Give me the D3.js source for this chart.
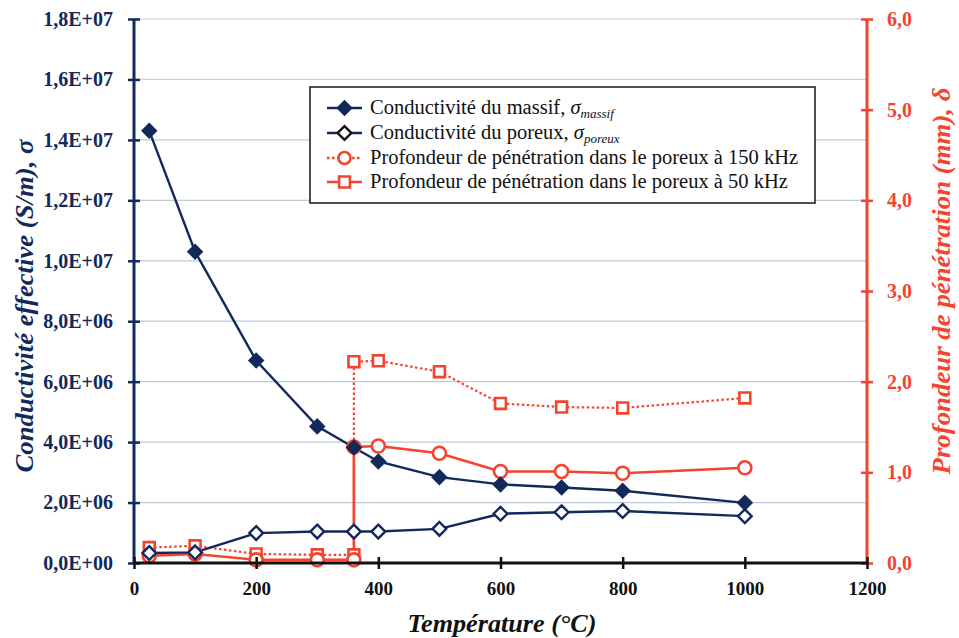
<!DOCTYPE html>
<html>
<head>
<meta charset="utf-8">
<script src="https://cdn.jsdelivr.net/npm/d3@7"></script>
<style>
  html, body { margin: 0; padding: 0; background: #fff; }
  svg { display: block; }
  svg text { font-family: "Liberation Serif", "Tinos", "Times New Roman", serif; }
</style>
</head>
<body>
<svg id="chart" width="959" height="638"></svg>
<script>
// Temperatures (°C) for the conductivity series
const temperatures = [25, 100, 200, 300, 360, 400, 500, 600, 700, 800, 1000];
// Effective conductivity (S/m)
const sigmaMassif = [1.43e7, 1.03e7, 6.7e6, 4.52e6, 3.82e6, 3.36e6, 2.84e6, 2.6e6, 2.5e6, 2.39e6, 1.99e6];
const sigmaPoreux = [3.3e5, 3.5e5, 9.9e5, 1.04e6, 1.04e6, 1.04e6, 1.13e6, 1.63e6, 1.68e6, 1.72e6, 1.55e6];
// Penetration depth (mm); the step at 360 °C is a vertical jump
const depthTemps = [25, 100, 200, 300, 360, 360, 400, 500, 600, 700, 800, 1000];
const depthDotted = [0.17, 0.19, 0.10, 0.09, 0.09, 2.22, 2.23, 2.11, 1.76, 1.72, 1.71, 1.82];
const depthSolid = [0.08, 0.10, 0.035, 0.035, 0.035, 1.28, 1.29, 1.21, 1.01, 1.01, 0.99, 1.05];
// Axis tick values
const xTicks = [0, 200, 400, 600, 800, 1000, 1200];
const yLeftTicks = [0, 2e6, 4e6, 6e6, 8e6, 1e7, 1.2e7, 1.4e7, 1.6e7, 1.8e7];
const yRightTicks = [0, 1, 2, 3, 4, 5, 6];
const legendLabels = [
  "Conductivité du massif, ",
  "Conductivité du poreux, ",
  "Profondeur de pénétration dans le poreux à 150 kHz",
  "Profondeur de pénétration dans le poreux à 50 kHz"
];

const NAVY = "#13295b";
const RED = "#f4432f";
const FONT = '"Liberation Serif", "Tinos", "Times New Roman", serif';

const svg = d3.select("#chart");
const L = 134, R = 867, T = 19, B = 563;

const x = d3.scaleLinear().domain([0, 1200]).range([L, R]);
const yL = d3.scaleLinear().domain([0, 1.8e7]).range([B, T]);
const yR = d3.scaleLinear().domain([0, 6]).range([B, T]);

// Horizontal gridlines on the conductivity ticks
svg.append("g").selectAll("line").data(yLeftTicks.filter(d => d > 0)).join("line")
  .attr("x1", L).attr("x2", R)
  .attr("y1", d => yL(d)).attr("y2", d => yL(d))
  .attr("stroke", d => d === 1.6e7 ? "#f2c2bb" : (d === 1.8e7 ? "#d6dbe2" : "#bccbd9"))
  .attr("stroke-width", 1.3);

const fmtSci = d => {
  if (d === 0) return "0,0E+00";
  const e = Math.floor(Math.log10(d));
  const m = d / Math.pow(10, e);
  return m.toFixed(1).replace(".", ",") + "E+" + String(e).padStart(2, "0");
};

// Left axis
const axL = svg.append("g").attr("transform", `translate(${L},0)`)
  .call(d3.axisLeft(yL).tickValues(yLeftTicks).tickFormat(fmtSci).tickSize(6).tickPadding(15))
  .attr("font-family", null);
axL.select(".domain").remove();
axL.append("line").attr("y1", T).attr("y2", B).attr("stroke", NAVY).attr("stroke-width", 3);
axL.selectAll(".tick line").attr("x1", -6).attr("x2", 6).attr("stroke", NAVY).attr("stroke-width", 2.5);
axL.selectAll(".tick text").attr("fill", NAVY).attr("font-size", 20).attr("font-weight", "bold")
  .style("font-family", FONT);

// Right axis
const axR = svg.append("g").attr("transform", `translate(${R},0)`)
  .call(d3.axisRight(yR).tickValues(yRightTicks).tickFormat(d => d.toFixed(1).replace(".", ",")).tickSize(6).tickPadding(14))
  .attr("font-family", null);
axR.select(".domain").remove();
axR.append("line").attr("y1", T).attr("y2", B).attr("stroke", RED).attr("stroke-width", 3);
axR.selectAll(".tick line").attr("x1", -6).attr("x2", 6).attr("stroke", RED).attr("stroke-width", 2.5);
axR.selectAll(".tick text").attr("fill", RED).attr("font-size", 20).attr("font-weight", "bold")
  .style("font-family", FONT);

// Data lines and markers
const lineL = d3.line().x(d => x(d[0])).y(d => yL(d[1]));
const lineR = d3.line().x(d => x(d[0])).y(d => yR(d[1]));

const ptsMassif = temperatures.map((t, i) => [t, sigmaMassif[i]]);
const ptsPoreux = temperatures.map((t, i) => [t, sigmaPoreux[i]]);
const ptsDotted = depthTemps.map((t, i) => [t, depthDotted[i]]);
const ptsSolid = depthTemps.map((t, i) => [t, depthSolid[i]]);

const plot = svg.append("g");

plot.append("path").datum(ptsDotted).attr("d", lineR)
  .attr("fill", "none").attr("stroke", RED).attr("stroke-width", 2.2).attr("stroke-dasharray", "2.5,2.5");
plot.append("path").datum(ptsSolid).attr("d", lineR)
  .attr("fill", "none").attr("stroke", RED).attr("stroke-width", 2.6);
plot.append("path").datum(ptsPoreux).attr("d", lineL)
  .attr("fill", "none").attr("stroke", NAVY).attr("stroke-width", 2.4);
plot.append("path").datum(ptsMassif).attr("d", lineL)
  .attr("fill", "none").attr("stroke", NAVY).attr("stroke-width", 2.4);

const diamond = d3.symbol().type(d3.symbolDiamond2).size(120);
const square = d3.symbol().type(d3.symbolSquare2).size(150);

plot.append("g").selectAll("path").data(ptsDotted).join("path")
  .attr("d", square).attr("transform", d => `translate(${x(d[0])},${yR(d[1])})`)
  .attr("fill", "#fff").attr("stroke", RED).attr("stroke-width", 2.6);
plot.append("g").selectAll("circle").data(ptsSolid).join("circle")
  .attr("cx", d => x(d[0])).attr("cy", d => yR(d[1])).attr("r", 6.5)
  .attr("fill", "#fff").attr("stroke", RED).attr("stroke-width", 2.6);
plot.append("g").selectAll("path").data(ptsPoreux).join("path")
  .attr("d", diamond).attr("transform", d => `translate(${x(d[0])},${yL(d[1])})`)
  .attr("fill", "#fff").attr("stroke", NAVY).attr("stroke-width", 2.4);
plot.append("g").selectAll("path").data(ptsMassif).join("path")
  .attr("d", diamond).attr("transform", d => `translate(${x(d[0])},${yL(d[1])})`)
  .attr("fill", NAVY).attr("stroke", NAVY).attr("stroke-width", 2);

// Bottom axis drawn last so it sits over markers at the baseline
const axB = svg.append("g").attr("transform", `translate(0,${B})`)
  .call(d3.axisBottom(x).tickValues(xTicks).tickFormat(d3.format("d")).tickSize(6).tickPadding(12.5))
  .attr("font-family", null);
axB.select(".domain").remove();
axB.append("line").attr("x1", L).attr("x2", R).attr("stroke", "#111").attr("stroke-width", 3);
axB.selectAll(".tick line").attr("y1", -6).attr("y2", 6).attr("stroke", "#111").attr("stroke-width", 2.5);
axB.selectAll(".tick text").attr("fill", "#111").attr("font-size", 19).attr("font-weight", "bold")
  .style("font-family", FONT);

// Axis titles
svg.append("text").attr("transform", "translate(502,632)").attr("text-anchor", "middle")
  .attr("font-size", 26).attr("font-weight", "bold").attr("font-style", "italic").attr("fill", "#111")
  .attr("textLength", 189).attr("lengthAdjust", "spacingAndGlyphs")
  .text("Température (°C)");
svg.append("text").attr("transform", "translate(33,306) rotate(-90)").attr("text-anchor", "middle")
  .attr("font-size", 26).attr("font-weight", "bold").attr("font-style", "italic").attr("fill", NAVY)
  .attr("textLength", 333).attr("lengthAdjust", "spacingAndGlyphs")
  .text("Conductivité effective (S/m), σ");
svg.append("text").attr("transform", "translate(950,281) rotate(-90)").attr("text-anchor", "middle")
  .attr("font-size", 26).attr("font-weight", "bold").attr("font-style", "italic").attr("fill", RED)
  .attr("textLength", 387).attr("lengthAdjust", "spacingAndGlyphs")
  .text("Profondeur de pénétration (mm), δ");

// Legend
const lg = svg.append("g");
lg.append("rect").attr("x", 310).attr("y", 87).attr("width", 505).attr("height", 116)
  .attr("fill", "#fff").attr("stroke", "#222").attr("stroke-width", 1.6);
const rowY = [108, 133, 158, 182];
const sx1 = 327, sx2 = 362, sxm = 344.5;
// massif
lg.append("line").attr("x1", sx1).attr("x2", sx2).attr("y1", rowY[0]).attr("y2", rowY[0]).attr("stroke", NAVY).attr("stroke-width", 2.6);
lg.append("path").attr("d", diamond).attr("transform", `translate(${sxm},${rowY[0]})`).attr("fill", NAVY).attr("stroke", NAVY).attr("stroke-width", 2);
// poreux
lg.append("line").attr("x1", sx1).attr("x2", sx2).attr("y1", rowY[1]).attr("y2", rowY[1]).attr("stroke", NAVY).attr("stroke-width", 2.6);
lg.append("path").attr("d", diamond).attr("transform", `translate(${sxm},${rowY[1]})`).attr("fill", "#fff").attr("stroke", "#111").attr("stroke-width", 2.4);
// 150 kHz
lg.append("line").attr("x1", sx1).attr("x2", sx2).attr("y1", rowY[2]).attr("y2", rowY[2]).attr("stroke", RED).attr("stroke-width", 2.4).attr("stroke-dasharray", "2.5,2.5");
lg.append("circle").attr("cx", sxm).attr("cy", rowY[2]).attr("r", 6).attr("fill", "#fff").attr("stroke", RED).attr("stroke-width", 2.6);
// 50 kHz
lg.append("line").attr("x1", sx1).attr("x2", sx2).attr("y1", rowY[3]).attr("y2", rowY[3]).attr("stroke", RED).attr("stroke-width", 2.6);
lg.append("path").attr("d", square).attr("transform", `translate(${sxm},${rowY[3]})`).attr("fill", "#fff").attr("stroke", RED).attr("stroke-width", 2.6);

const lt = lg.selectAll("text.lbl").data(legendLabels).join("text")
  .attr("class", "lbl").attr("x", 370).attr("y", (d, i) => rowY[i] + 6)
  .attr("font-size", 20.5).attr("fill", "#111").text(d => d);
// Greek sigma with italic subscripts on the first two rows
[["massif", 0], ["poreux", 1]].forEach(([sub, i]) => {
  const t = lt.filter((d, j) => j === i);
  t.append("tspan").attr("font-style", "italic").text("σ");
  t.append("tspan").attr("font-style", "italic").attr("font-size", 13).attr("dy", 4).text(sub);
});
</script>
</body>
</html>
